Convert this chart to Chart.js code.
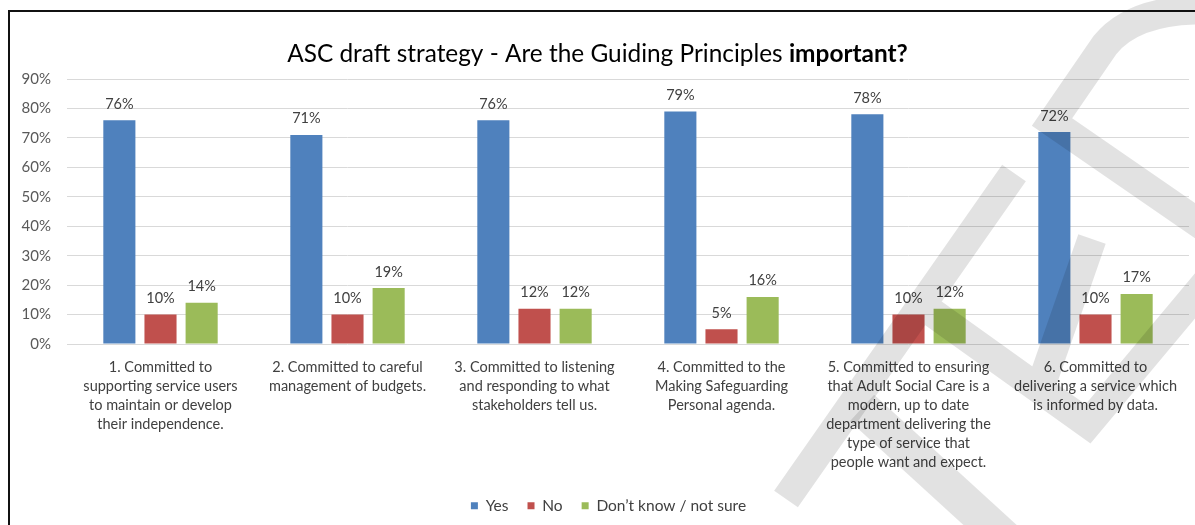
<!DOCTYPE html>
<html>
<head>
<meta charset="utf-8">
<script src="https://cdn.jsdelivr.net/npm/chart.js@4.4.1/dist/chart.umd.min.js"></script>
<style>
  html, body { margin: 0; padding: 0; background: #fff; overflow: hidden; }
  #chart { display: block; }
</style>
</head>
<body>
<canvas id="chart" width="1195" height="540"></canvas>
<script>
// Survey answers per guiding principle (percent)
const categories = [
    ['1. Committed to', 'supporting service users', 'to maintain or develop', 'their independence.'],
    ['2. Committed to careful', 'management of budgets.'],
    ['3. Committed to listening', 'and responding to what', 'stakeholders tell us.'],
    ['4. Committed to the', 'Making Safeguarding', 'Personal agenda.'],
    ['5. Committed to ensuring', 'that Adult Social Care is a', 'modern, up to date', 'department delivering the', 'type of service that', 'people want and expect.'],
    ['6. Committed to', 'delivering a service which', 'is informed by data.']
];
const yesValues = [76, 71, 76, 79, 78, 72];
const noValues = [10, 10, 12, 5, 10, 10];
const unsureValues = [14, 19, 12, 16, 12, 17];
const yTickValues = [0, 10, 20, 30, 40, 50, 60, 70, 80, 90];

const seriesNames = ['Yes', 'No', 'Don\u2019t know / not sure'];
const seriesColors = ['#4f81bd', '#c0504d', '#9bbb59'];

const FONT = 'Lato, "Open Sans", sans-serif';
const titlePlain = 'ASC draft strategy - Are the Guiding Principles ';
const titleBold = 'important?';

// Frame lines round the chart
const framePlugin = {
    id: 'frame',
    beforeDraw(chart) {
        const ctx = chart.ctx;
        ctx.save();
        ctx.fillStyle = '#111';
        ctx.fillRect(8, 10, chart.width - 8, 2);
        ctx.fillRect(8, 10, 2, chart.height - 10);
        ctx.restore();
    }
};

// Title with the last word in bold
const titlePlugin = {
    id: 'mixedTitle',
    afterDraw(chart) {
        const ctx = chart.ctx;
        ctx.save();
        ctx.fillStyle = '#000';
        ctx.textBaseline = 'alphabetic';
        ctx.font = '24.4px ' + FONT;
        const w1 = ctx.measureText(titlePlain).width;
        ctx.font = 'bold 24.4px ' + FONT;
        const w2 = ctx.measureText(titleBold).width;
        const x = 597.5 - (w1 + w2) / 2;
        ctx.font = '24.4px ' + FONT;
        ctx.fillText(titlePlain, x, 62);
        ctx.font = 'bold 24.4px ' + FONT;
        ctx.fillText(titleBold, x + w1, 62);
        ctx.restore();
    }
};

// Value labels above each bar
const valueLabels = {
    id: 'valueLabels',
    afterDatasetsDraw(chart) {
        const ctx = chart.ctx;
        ctx.save();
        ctx.font = '14.5px ' + FONT;
        ctx.fillStyle = '#404040';
        ctx.textAlign = 'center';
        ctx.textBaseline = 'alphabetic';
        chart.data.datasets.forEach((ds, i) => {
            chart.getDatasetMeta(i).data.forEach((bar, j) => {
                ctx.fillText(ds.data[j] + '%', bar.x, bar.y - 11.5);
            });
        });
        ctx.restore();
    }
};

// Move the legend row so it sits a little right of centre
const legendShift = {
    id: 'legendShift',
    afterLayout(chart) {
        chart.legend.left += 9;
        chart.legend.right += 9;
    }
};

// Grey logo strokes laid over the whole picture
const logoPlugin = {
    id: 'logo',
    afterDraw(chart) {
        const ctx = chart.ctx;
        ctx.save();
        ctx.strokeStyle = 'rgba(0,0,0,0.115)';
        ctx.lineCap = 'butt';
        ctx.lineJoin = 'miter';

        ctx.lineWidth = 29;
        ctx.beginPath();
        ctx.moveTo(786, 499); ctx.lineTo(1014, 173);
        ctx.moveTo(912, 298); ctx.lineTo(1088, 424); ctx.lineTo(1210, 278);
        ctx.moveTo(1037, 397); ctx.lineTo(1092, 239);
        ctx.moveTo(1210, 231); ctx.lineTo(1052, 122); ctx.lineTo(1105, 45);
        ctx.quadraticCurveTo(1135, 8, 1210, 10);
        ctx.stroke();

        ctx.lineWidth = 36;
        ctx.beginPath();
        ctx.moveTo(862, 408); ctx.lineTo(1012, 545);
        ctx.stroke();
        ctx.restore();
    }
};

const ctx = document.getElementById('chart').getContext('2d');

new Chart(ctx, {
    type: 'bar',
    data: {
        labels: categories,
        datasets: [
            { label: seriesNames[0], data: yesValues, backgroundColor: seriesColors[0] },
            { label: seriesNames[1], data: noValues, backgroundColor: seriesColors[1] },
            { label: seriesNames[2], data: unsureValues, backgroundColor: seriesColors[2] }
        ]
    },
    options: {
        responsive: false,
        animation: false,
        events: [],
        datasets: {
            bar: { categoryPercentage: 0.66, barPercentage: 0.78 }
        },
        layout: {
            padding: { left: 10, top: 79, right: 6, bottom: 16.5 }
        },
        scales: {
            y: {
                min: 0,
                max: 90,
                afterBuildTicks: scale => { scale.ticks = yTickValues.map(v => ({ value: v })); },
                afterFit: scale => { scale.width = 57; },
                ticks: {
                    callback: v => v + '%',
                    color: '#595959',
                    font: { family: FONT, size: 15 },
                    padding: 16
                },
                grid: { color: '#d9d9d9', drawTicks: false },
                border: { display: false }
            },
            x: {
                afterFit: scale => { scale.height = 135; },
                ticks: {
                    color: '#404040',
                    font: { family: FONT, size: 14.5, lineHeight: 1.31 },
                    padding: 14,
                    maxRotation: 0,
                    autoSkip: false
                },
                grid: { display: false, drawTicks: false },
                border: { display: false }
            }
        },
        plugins: {
            title: { display: false },
            tooltip: { enabled: false },
            legend: {
                position: 'bottom',
                labels: {
                    boxWidth: 7,
                    boxHeight: 7,
                    padding: 19,
                    color: '#404040',
                    font: { family: FONT, size: 15.5 }
                }
            }
        }
    },
    plugins: [framePlugin, titlePlugin, valueLabels, legendShift, logoPlugin]
});
</script>
</body>
</html>
